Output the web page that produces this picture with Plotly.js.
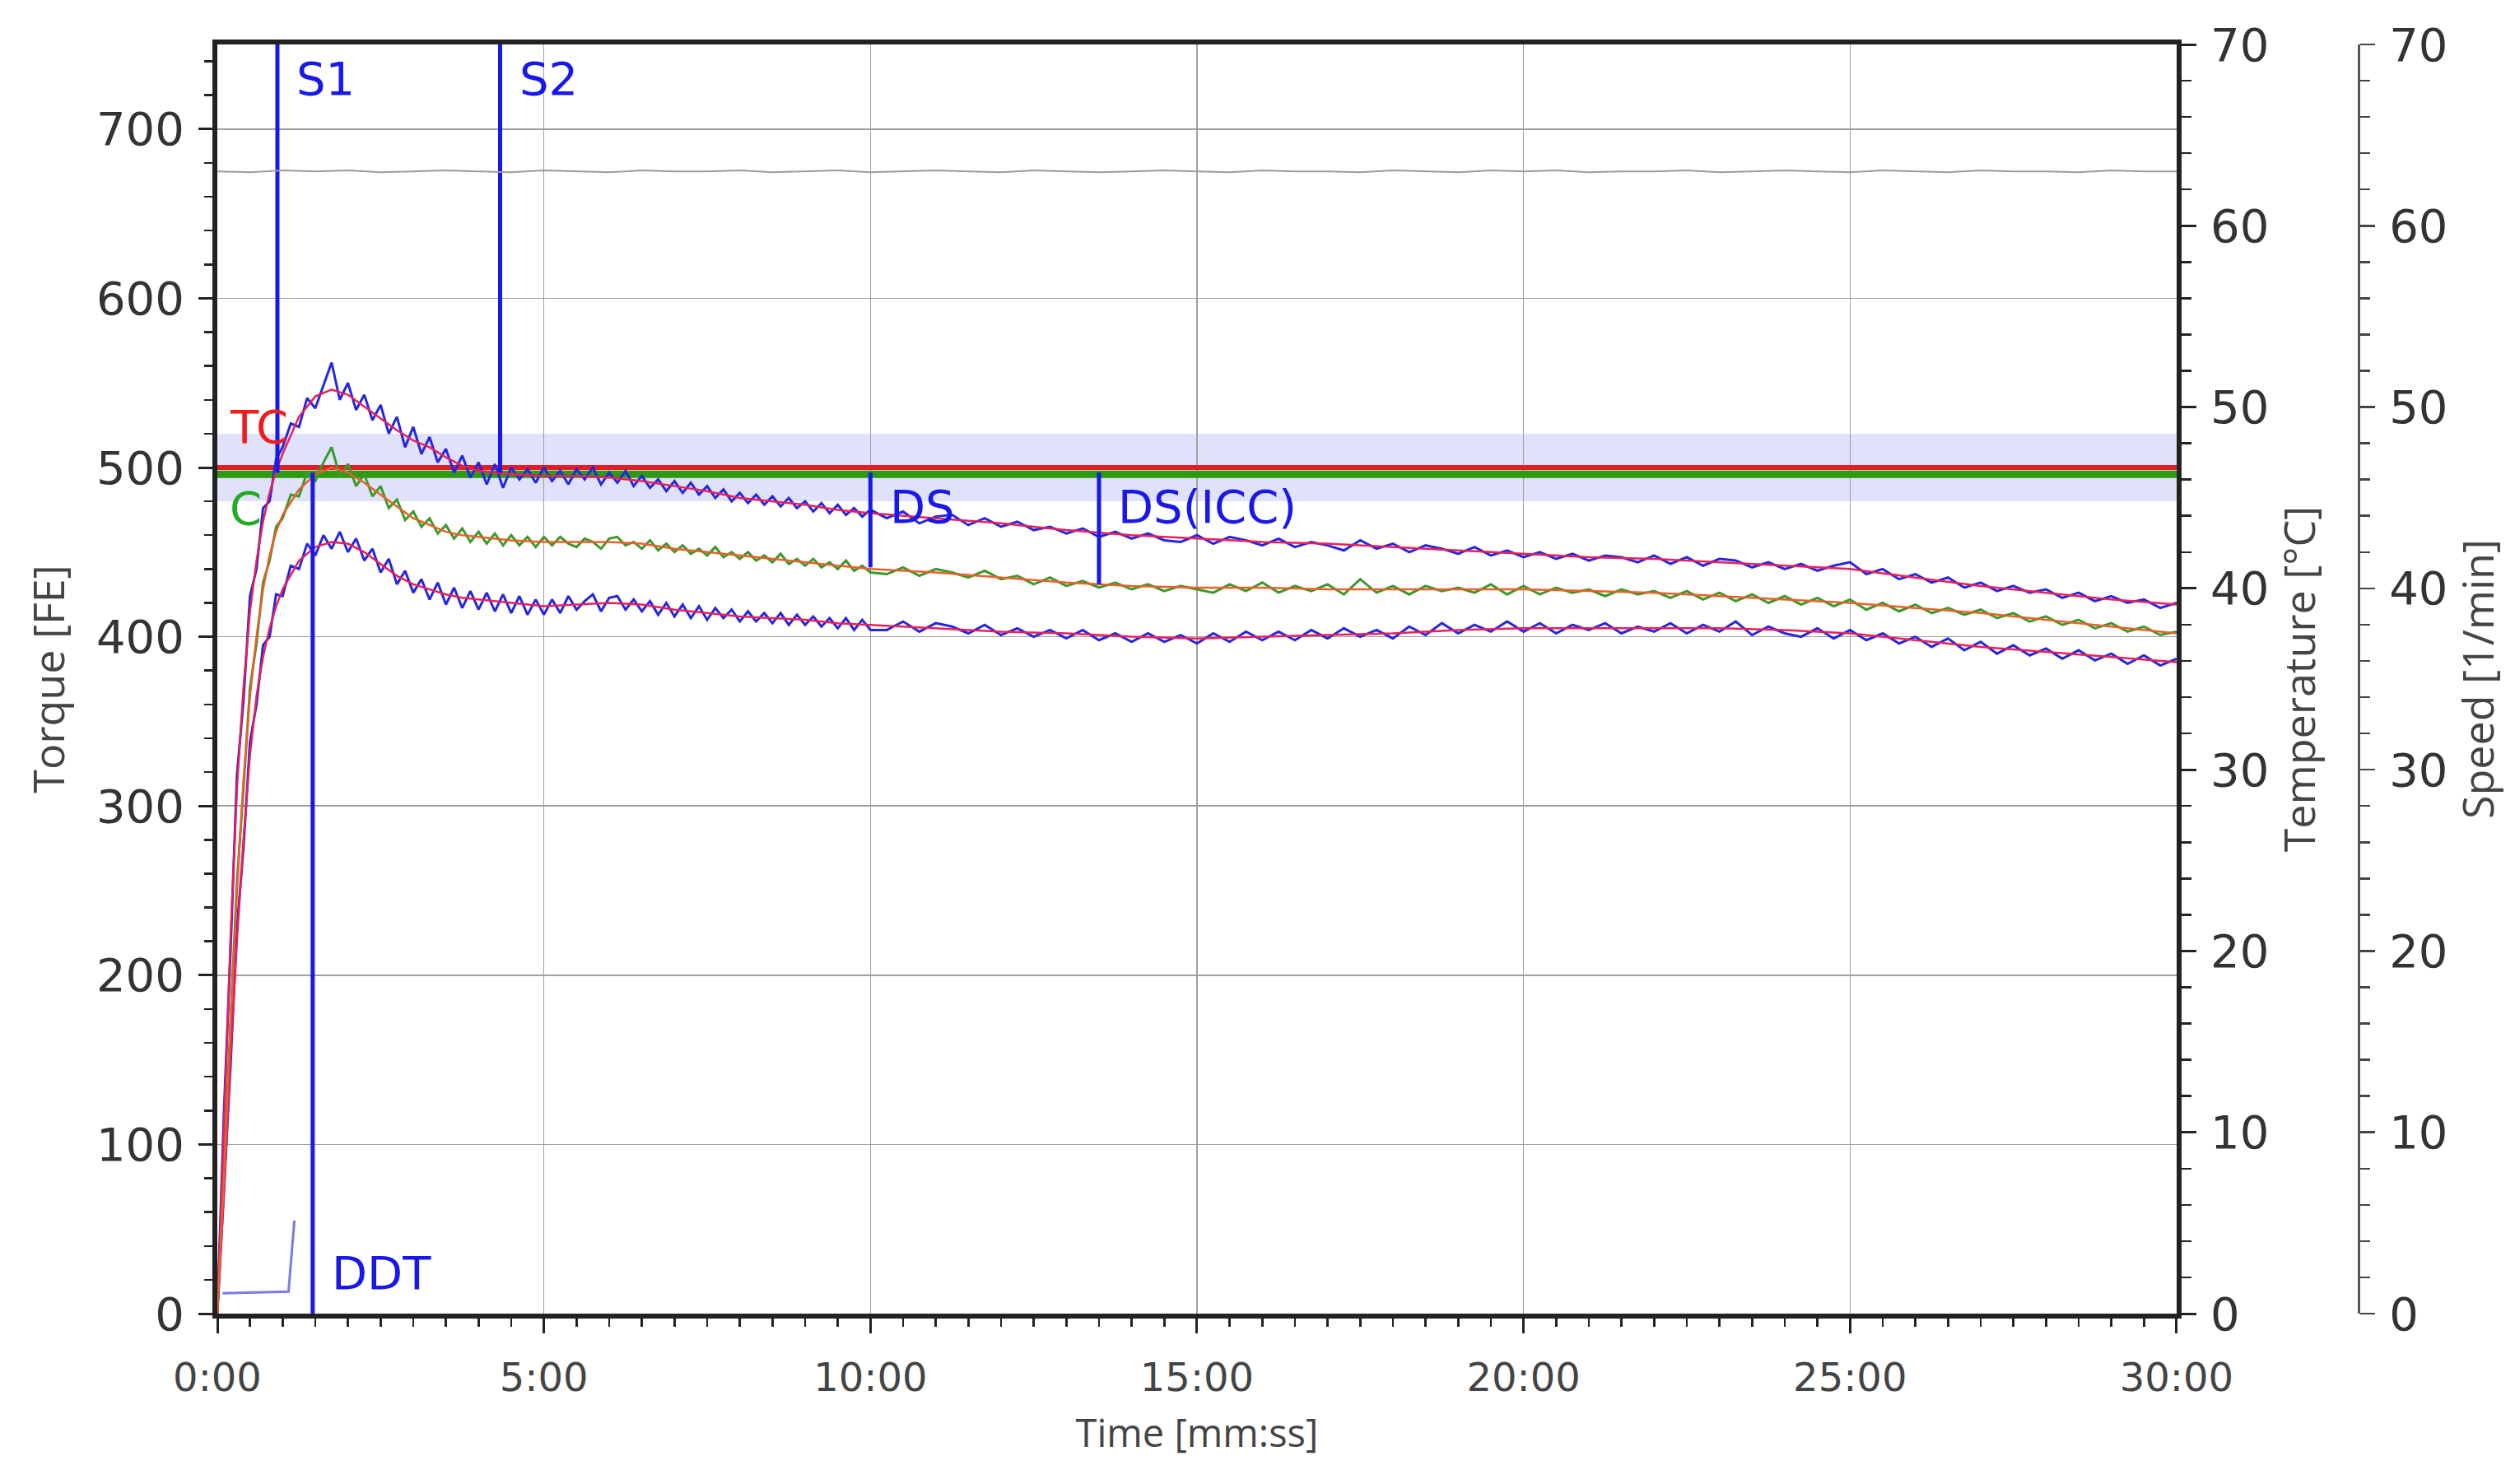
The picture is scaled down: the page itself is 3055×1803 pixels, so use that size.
<!DOCTYPE html>
<html>
<head>
<meta charset="utf-8">
<script src="https://cdn.plot.ly/plotly-3.0.1.min.js"></script>
<style>html,body{margin:0;padding:0;background:#fff;}#chart{width:3055px;height:1803px;}</style>
</head>
<body>
<div id="chart"></div>
<script>
// ---------------- data ----------------
const xTickVals = [0, 5, 10, 15, 20, 25, 30];
const xTickText = ['0:00', '5:00', '10:00', '15:00', '20:00', '25:00', '30:00'];

const noisyTime = [0,0.1,0.2,0.3,0.4,0.5,0.6,0.7,0.8,0.9,1,
1.125,1.25,1.375,1.5,1.625,1.75,1.875,2,
2.125,2.25,2.375,2.5,2.625,2.75,2.875,3,
3.125,3.25,3.375,3.5,3.625,3.75,3.875,4,
4.125,4.25,4.375,4.5,4.625,4.75,4.875,5,
5.125,5.25,5.375,5.5,5.625,5.75,5.875,6,
6.125,6.25,6.375,6.5,6.625,6.75,6.875,7,
7.125,7.25,7.375,7.5,7.625,7.75,7.875,8,
8.125,8.25,8.375,8.5,8.625,8.75,8.875,9,
9.125,9.25,9.375,9.5,9.625,9.75,9.875,10,
10.25,10.5,10.75,11,11.25,11.5,11.75,12,
12.25,12.5,12.75,13,13.25,13.5,13.75,14,
14.25,14.5,14.75,15,15.25,15.5,15.75,16,
16.25,16.5,16.75,17,17.25,17.5,17.75,18,
18.25,18.5,18.75,19,19.25,19.5,19.75,20,
20.25,20.5,20.75,21,21.25,21.5,21.75,22,
22.25,22.5,22.75,23,23.25,23.5,23.75,24,
24.25,24.5,24.75,25,25.25,25.5,25.75,26,
26.25,26.5,26.75,27,27.25,27.5,27.75,28,
28.25,28.5,28.75,29,29.25,29.5,29.75,30];

const upperTorque = [0,118,212,318,362,424,440,476,480,505,512,
526,524,541,535,549,562,540,550,
534,543,528,537,520,530,512,524,
508,518,503,511,497,507,494,503,
490,502,488,500,493,499,491,500,
492,498,490,499,493,500,490,497,
491,498,489,495,488,493,486,492,
485,491,484,489,482,487,480,485,
479,484,478,483,477,482,476,480,
474,479,473,478,472,476,471,475,
470,474,467,471,472,466,470,465,
468,463,465,461,464,459,462,458,
461,457,456,460,455,459,457,454,
458,453,456,454,451,457,452,455,
450,454,452,449,453,448,451,447,
450,446,449,445,448,447,444,448,
443,447,442,446,445,441,444,440,
443,439,442,444,437,440,434,437,
432,435,429,432,427,430,426,428,
423,426,421,424,420,422,417,420];

const meanTorque = [0,85,165,255,310,370,396,432,445,465,470,
484,483,497,492,503,512,495,502,
489,496,483,489,476,481,469,474,
465,470,461,466,458,464,456,462,
455,461,454,460,454,459,453,459,
454,459,455,453,458,456,452,458,
459,454,456,452,457,451,455,450,
454,449,452,448,453,447,450,446,
450,445,448,444,449,443,446,442,
446,441,444,440,445,439,442,438,
437,441,436,440,438,435,439,434,
436,431,435,430,433,429,432,428,
431,427,430,428,426,431,427,432,
426,430,427,431,425,434,426,430,
425,430,427,429,426,431,425,430,
425,429,426,428,424,428,425,427,
423,427,422,426,421,425,420,424,
419,423,418,422,416,420,415,419,
414,417,413,416,411,414,409,412,
407,410,405,408,403,406,401,403];

const lowerTorque = [0,75,145,228,275,338,360,395,400,425,424,
442,440,455,448,460,452,462,450,
458,445,452,438,446,431,439,426,
434,422,432,419,429,417,427,416,
426,415,425,414,424,413,422,413,
422,414,424,416,421,425,415,423,
424,416,422,415,421,413,420,412,
419,411,418,410,417,411,416,409,
415,409,414,408,414,407,413,407,
412,406,411,405,411,404,410,404,
404,409,403,408,406,402,407,401,
405,400,404,399,404,398,402,397,
402,397,401,396,402,397,403,398,
403,398,404,399,405,400,404,399,
406,401,408,402,407,403,409,403,
408,402,407,404,408,402,406,403,
408,402,407,403,409,401,406,402,
400,405,399,404,398,402,396,400,
394,399,392,397,390,395,389,393,
387,392,386,390,384,389,383,387];

const smoothTime = [0,0.1,0.2,0.3,0.4,0.5,0.6,0.7,0.8,0.9,1,
1.25,1.5,1.75,2,2.25,2.5,2.75,3,3.25,3.5,3.75,4,
4.5,5,5.5,6,6.5,7,7.5,8,8.5,9,9.5,10,
11,12,13,14,15,16,17,18,19,20,21,22,23,24,25,26,27,28,29,30];
const upperSmooth = [0,110,220,310,370,415,445,468,485,498,508,
530,542,546,543,536,529,522,516,512,506,501,498,
496,495,495,494,492,489,486,482,480,478,475,473,
470,467,463,460,458,456,455,453,451,449,447,446,444,442,440,435,430,426,422,419];
const meanSmooth = [0,80,170,250,315,365,400,428,448,462,472,
487,496,500,497,491,484,477,470,466,462,460,459,
457,456,456,456,455,452,450,448,446,444,442,440,
438,435,432,430,429,429,428,428,428,428,427,426,424,422,420,417,414,410,406,402];
const lowerSmooth = [0,70,150,220,280,330,365,388,405,418,428,
445,453,456,455,450,443,436,431,428,425,423,422,
420,418,419,420,419,416,414,412,411,410,408,407,
405,403,402,400,399,400,401,402,404,405,405,405,405,404,402,398,394,391,388,385];

const speedTime = [0,0.5,1,1.5,2,2.5,3,3.5,4,4.5,5,5.5,6,6.5,7,7.5,8,8.5,9,9.5,
10,10.5,11,11.5,12,12.5,13,13.5,14,14.5,15,15.5,16,16.5,17,17.5,18,18.5,19,19.5,
20,20.5,21,21.5,22,22.5,23,23.5,24,24.5,25,25.5,26,26.5,27,27.5,28,28.5,29,29.5,30];
const speedValue = [63.0,62.95,63.05,63.0,63.05,62.95,63.0,63.05,63.0,62.95,
63.05,63.0,62.95,63.05,63.0,63.0,63.05,62.95,63.0,63.05,
62.95,63.0,63.05,63.0,62.95,63.05,63.0,62.95,63.0,63.05,
63.0,62.95,63.05,63.0,63.0,62.95,63.05,63.0,62.95,63.05,
63.0,63.05,62.95,63.0,63.0,63.05,62.95,63.0,63.05,63.0,
62.95,63.05,63.0,62.95,63.05,63.0,63.0,62.95,63.05,63.0,63.0];

const auxTime = [0.08, 1.09, 1.18];
const auxValue = [12, 13, 55];

const tcValue = 500;      // TC
const cValue = 496;       // C
const bandLow = 480;
const bandHigh = 520;
const tempRange = [0, 70];

const markerNames = ['S1', 'S2', 'DDT', 'DS', 'DS(ICC)'];
const markerTimes = [0.92, 4.33, 1.46, 10.0, 13.5];
const markerFrom = [750, 750, 0, 497, 497];
const markerTo = [497, 497, 497, 441, 431];

// ---------------- styling / layout ----------------
const BLUE = '#1818ec';
const labelY = [730, 730, 24, 477, 477];   // label anchor heights (torque units)
const labelOffset = 0.27;                  // minutes to the right of the line

const traces = [];
// carrier for the temperature axis (no visible mark)
traces.push({x: [0, 30], y: tempRange, yaxis: 'y2', mode: 'lines', opacity: 0,
  line: {width: 0}, hoverinfo: 'skip'});
traces.push({x: speedTime, y: speedValue, yaxis: 'y3', mode: 'lines',
  line: {color: '#9c9c9c', width: 2}, hoverinfo: 'skip'});
traces.push({x: auxTime, y: auxValue, mode: 'lines',
  line: {color: '#7a7ae6', width: 3}, hoverinfo: 'skip'});
traces.push({x: [0, 30], y: [cValue, cValue], mode: 'lines',
  line: {color: '#2e9a12', width: 9}});
traces.push({x: [0, 30], y: [tcValue, tcValue], mode: 'lines',
  line: {color: '#e01e24', width: 6}});
traces.push({x: noisyTime, y: upperTorque, mode: 'lines', line: {color: '#2626e0', width: 3}});
traces.push({x: noisyTime, y: lowerTorque, mode: 'lines', line: {color: '#2626e0', width: 3}});
traces.push({x: noisyTime, y: meanTorque, mode: 'lines', line: {color: '#3a9a2a', width: 3}});
traces.push({x: smoothTime, y: upperSmooth, mode: 'lines', line: {color: '#e8205a', width: 2.5}});
traces.push({x: smoothTime, y: lowerSmooth, mode: 'lines', line: {color: '#e8205a', width: 2.5}});
traces.push({x: smoothTime, y: meanSmooth, mode: 'lines', line: {color: '#e8602a', width: 2.5}});
markerTimes.forEach((t, i) => {
  traces.push({x: [t, t], y: [markerFrom[i], markerTo[i]], mode: 'lines',
    line: {color: BLUE, width: 5}, name: markerNames[i]});
});

const annotations = markerNames.map((n, i) => ({
  x: markerTimes[i] + labelOffset, y: labelY[i], xref: 'x', yref: 'y',
  text: n, showarrow: false, xanchor: 'left', yanchor: 'middle',
  font: {family: 'DejaVu Sans', size: 56, color: BLUE}
}));
annotations.push({x: 0.17, y: 524, xref: 'x', yref: 'y', text: 'TC', showarrow: false,
  xanchor: 'left', yanchor: 'middle', font: {family: 'DejaVu Sans', size: 56, color: '#ee1c1c'}});
annotations.push({x: 0.17, y: 476, xref: 'x', yref: 'y', text: 'C', showarrow: false,
  xanchor: 'left', yanchor: 'middle', font: {family: 'DejaVu Sans', size: 56, color: '#22aa22'}});

const tickFont = {family: 'DejaVu Sans', size: 56, color: '#333'};
const yTitleFont = {family: 'Open Sans', size: 52, color: '#444'};

const layout = {
  width: 3055, height: 1803,
  margin: {l: 264, r: 190, t: 54, b: 207},
  paper_bgcolor: '#ffffff', plot_bgcolor: '#ffffff',
  showlegend: false,
  xaxis: {
    domain: [0, 0.915], range: [0, 30],
    tickmode: 'array', tickvals: xTickVals, ticktext: xTickText,
    ticks: 'outside', ticklen: 18, tickwidth: 3, tickcolor: '#222',
    showline: true, linewidth: 6, linecolor: '#222', mirror: true,
    showgrid: true, gridcolor: '#a0a0a0', gridwidth: 1.5, zeroline: false,
    tickfont: {family: 'DejaVu Sans', size: 48, color: '#444'}, ticklabelstandoff: 12,
    minor: {tickmode: 'linear', tick0: 0, dtick: 0.5, ticks: 'outside', ticklen: 10,
            tickwidth: 2.5, tickcolor: '#222', showgrid: false},
    title: {text: 'Time [mm:ss]', font: {family: 'Open Sans', size: 47, color: '#444'}, standoff: 28}
  },
  yaxis: {
    range: [0, 750], tickmode: 'linear', tick0: 0, dtick: 100,
    ticks: 'outside', ticklen: 17, tickwidth: 3, tickcolor: '#222',
    showline: true, linewidth: 6, linecolor: '#222',
    showgrid: true, gridcolor: '#a0a0a0', gridwidth: 1.5, zeroline: false,
    tickfont: tickFont, ticklabelstandoff: 6,
    minor: {tickmode: 'linear', tick0: 0, dtick: 20, ticks: 'outside', ticklen: 10,
            tickwidth: 2.5, tickcolor: '#222', showgrid: false},
    title: {text: 'Torque [FE]', font: yTitleFont, standoff: 24}
  },
  yaxis2: {
    overlaying: 'y', side: 'right', anchor: 'x', range: tempRange,
    tickmode: 'linear', tick0: 0, dtick: 10,
    ticks: 'outside', ticklen: 18, tickwidth: 3, tickcolor: '#222',
    showline: true, linewidth: 6, linecolor: '#222', showgrid: false, zeroline: false,
    tickfont: tickFont, ticklabelstandoff: 6,
    minor: {tickmode: 'linear', tick0: 0, dtick: 2, ticks: 'outside', ticklen: 12,
            tickwidth: 2.5, tickcolor: '#222', showgrid: false},
    title: {text: 'Temperature [°C]', font: yTitleFont, standoff: 12}
  },
  yaxis3: {
    overlaying: 'y', side: 'right', anchor: 'free', position: 1, range: tempRange,
    tickmode: 'linear', tick0: 0, dtick: 10,
    ticks: 'outside', ticklen: 18, tickwidth: 2.5, tickcolor: '#444',
    showline: true, linewidth: 3, linecolor: '#555', showgrid: false, zeroline: false,
    tickfont: tickFont, ticklabelstandoff: 6,
    minor: {tickmode: 'linear', tick0: 0, dtick: 2, ticks: 'outside', ticklen: 12,
            tickwidth: 2.5, tickcolor: '#444', showgrid: false},
    title: {text: 'Speed [1/min]', font: yTitleFont, standoff: 14}
  },
  shapes: [{type: 'rect', xref: 'x', yref: 'y', x0: 0, x1: 30, y0: bandLow, y1: bandHigh,
            fillcolor: 'rgba(185,190,245,0.45)', line: {width: 0}, layer: 'below'}],
  annotations: annotations
};

Plotly.newPlot('chart', traces, layout, {staticPlot: true, displayModeBar: false});
</script>
</body>
</html>
